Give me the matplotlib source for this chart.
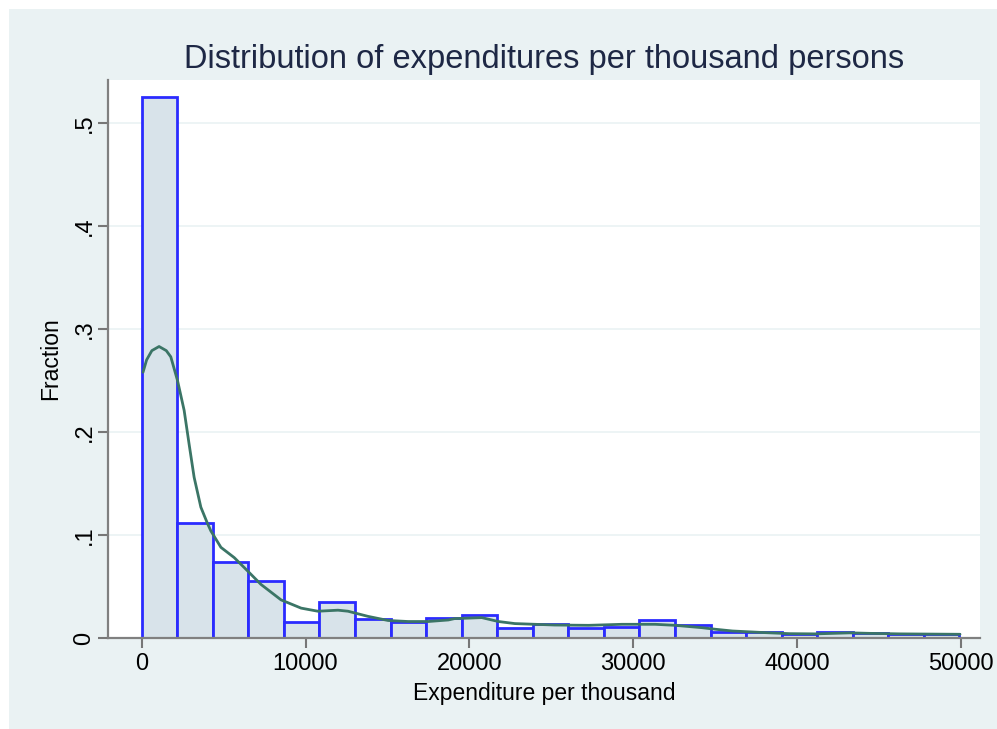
import matplotlib
matplotlib.use("Agg")
import matplotlib.pyplot as plt
from matplotlib.patches import Rectangle
import numpy as np

# ---- data ----
bin_start = 0
bin_end = 49900
n_bins = 23
fractions = [0.525, 0.112, 0.074, 0.055, 0.016, 0.035, 0.018, 0.016, 0.019,
             0.022, 0.010, 0.014, 0.010, 0.011, 0.017, 0.013, 0.006, 0.006,
             0.004, 0.006, 0.005, 0.004, 0.004]

curve_x = [80, 300, 620, 1060, 1500, 1775, 2185, 2590, 2895, 3200, 3610, 4020,
           4220, 4835, 5650, 6470, 7280, 8505, 9730, 10750, 11980, 12590,
           13810, 15040, 16260, 17480, 18710, 19080, 20750, 21770, 22770,
           25210, 27280, 29310, 31330, 32560, 34200, 35000, 36050, 38070,
           39540, 41130, 43210, 44430, 46270, 49940]
curve_y = [0.258, 0.270, 0.279, 0.283, 0.279, 0.273, 0.250, 0.221, 0.188, 0.156,
           0.127, 0.111, 0.104, 0.088, 0.078, 0.065, 0.052, 0.037, 0.029, 0.026,
           0.027, 0.026, 0.021, 0.017, 0.016, 0.016, 0.0175, 0.0188, 0.0198,
           0.016, 0.014, 0.0126, 0.0123, 0.0133, 0.0133, 0.0123, 0.010, 0.0085,
           0.0068, 0.0052, 0.0042, 0.0040, 0.0050, 0.0045, 0.0040, 0.0036]

x_ticks = [0, 10000, 20000, 30000, 40000, 50000]
x_tick_labels = ["0", "10000", "20000", "30000", "40000", "50000"]
y_ticks = [0, 0.1, 0.2, 0.3, 0.4, 0.5]
y_tick_labels = ["0", ".1", ".2", ".3", ".4", ".5"]

title = "Distribution of expenditures per thousand persons"
x_label = "Expenditure per thousand"
y_label = "Fraction"

# ---- styling ----
plt.rcParams['font.family'] = ['Liberation Sans', 'DejaVu Sans']
W, H = 997, 729
fig = plt.figure(figsize=(W / 100, H / 100), dpi=100, facecolor="white")
panel = Rectangle((9 / W, 0), 1 - 9 / W, 1 - 9 / H, transform=fig.transFigure,
                  facecolor="#eaf2f3", edgecolor="none", zorder=-10)
fig.patches.append(panel)

left, right, top, bottom = 108, 980, 80, 638
ax = fig.add_axes([left / W, 1 - bottom / H, (right - left) / W, (bottom - top) / H])
ax.set_facecolor("white")

edges = np.linspace(bin_start, bin_end, n_bins + 1)
width = edges[1] - edges[0]
ax.bar(edges[:-1], fractions, width=width, align="edge", color="#d8e3ea",
       edgecolor="#2b2bff", linewidth=2.0, zorder=2)
ax.plot(curve_x, curve_y, color="#3b7566", linewidth=2.0, zorder=3,
        solid_joinstyle="round", solid_capstyle="round")

# axis scale
x0_px, x50_px = 141.7, 961.0
ppu = (x50_px - x0_px) / 50000
ax.set_xlim(-(x0_px - left) / ppu, (right - x0_px) / ppu)
ax.set_ylim(0, (bottom - top) / 1030.0)

ax.set_yticks(y_ticks)
ax.set_yticklabels(y_tick_labels, rotation=90, va="center", fontsize=17)
ax.set_xticks(x_ticks)
ax.set_xticklabels(x_tick_labels, fontsize=17)
ax.tick_params(axis="both", colors="#777777", labelcolor="black", width=1.5,
               length=7, direction="out")
ax.tick_params(axis="x", pad=4)
ax.tick_params(axis="y", pad=2)

for s in ["top", "right"]:
    ax.spines[s].set_visible(False)
for s in ["left", "bottom"]:
    ax.spines[s].set_color("#808080")
    ax.spines[s].set_linewidth(1.6)

ax.grid(axis="y", color="#eaf2f3", linewidth=1.2, zorder=0)
ax.set_axisbelow(True)

ax.set_xlabel(x_label, fontsize=16.5, labelpad=5)
ax.set_ylabel(y_label, fontsize=16.5, labelpad=8)
ax.set_title(title, fontsize=23.5, color="#1e2845", pad=9)

fig.savefig("out.png", dpi=100, facecolor="white")
